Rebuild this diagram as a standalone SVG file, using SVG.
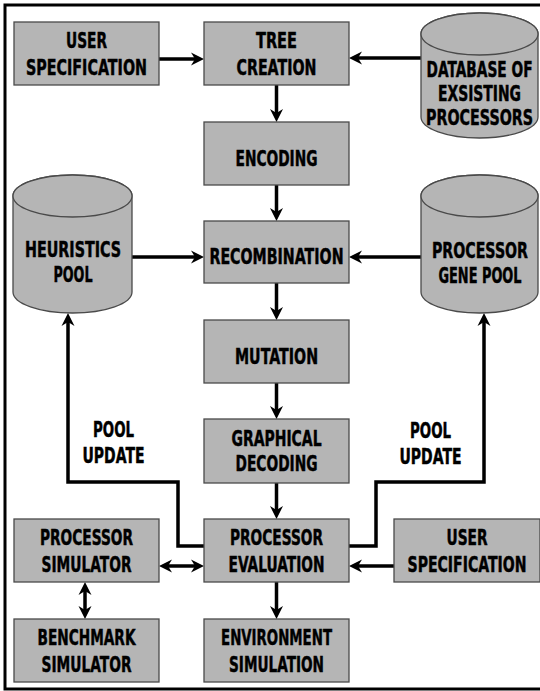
<svg xmlns="http://www.w3.org/2000/svg" width="540" height="691" viewBox="0 0 540 691">
<style>
.box{fill:#b5b5b5;stroke:#4a4a4a;stroke-width:1.3}
.cyl{fill:#b5b5b5;stroke:#4a4a4a;stroke-width:1.3}
.t{font-family:"Liberation Sans Narrow","Arial Narrow","DejaVu Sans","Liberation Sans",sans-serif;font-weight:bold;font-size:21px;fill:#000;stroke:#000;stroke-width:0.5;text-anchor:middle}
.c{fill:none;stroke:#000;stroke-width:3.5;stroke-linejoin:miter}
</style>
<defs>
<marker id="ah" markerUnits="userSpaceOnUse" markerWidth="14" markerHeight="14" viewBox="0 -7 14 14" refX="5" refY="0" orient="auto-start-reverse">
<path d="M0,-6.5 L13,0 L0,6.5 L4,0 Z" fill="#000"/>
</marker>
</defs>
<rect x="0" y="0" width="540" height="691" fill="#fff"/>
<rect x="5" y="5" width="545" height="684" fill="none" stroke="#000" stroke-width="3"/>

<g id="connectors">
<path class="c" d="M159,59 H196" marker-end="url(#ah)"/>
<path class="c" d="M421,58 H357" marker-end="url(#ah)"/>
<path class="c" d="M276.5,85 V114" marker-end="url(#ah)"/>
<path class="c" d="M276.5,185 V213" marker-end="url(#ah)"/>
<path class="c" d="M132,257 H196" marker-end="url(#ah)"/>
<path class="c" d="M421,257 H357" marker-end="url(#ah)"/>
<path class="c" d="M276.5,283 V312" marker-end="url(#ah)"/>
<path class="c" d="M276.5,383 V411" marker-end="url(#ah)"/>
<path class="c" d="M276.5,483 V511" marker-end="url(#ah)"/>
<path class="c" d="M276.5,582 V611" marker-end="url(#ah)"/>
<path class="c" d="M167,566 H196" marker-start="url(#ah)" marker-end="url(#ah)"/>
<path class="c" d="M394,566 H357" marker-end="url(#ah)"/>
<path class="c" d="M85,590 V611" marker-start="url(#ah)" marker-end="url(#ah)"/>
<path class="c" d="M204,546 H178 V482 H68 V321" marker-end="url(#ah)"/>
<path class="c" d="M349,546 H376 V482 H484 V321" marker-end="url(#ah)"/>
</g>

<g id="label_pool_update_left">
<text class="t" transform="translate(113.5 0) scale(.68 1)" x="0" y="437" textLength="60.3" lengthAdjust="spacingAndGlyphs">POOL</text>
<text class="t" transform="translate(113.5 0) scale(.68 1)" x="0" y="463" textLength="91.2" lengthAdjust="spacingAndGlyphs">UPDATE</text>
</g>
<g id="label_pool_update_right">
<text class="t" transform="translate(430.5 0) scale(.68 1)" x="0" y="438" textLength="60.3" lengthAdjust="spacingAndGlyphs">POOL</text>
<text class="t" transform="translate(430.5 0) scale(.68 1)" x="0" y="464" textLength="91.2" lengthAdjust="spacingAndGlyphs">UPDATE</text>
</g>

<g id="user_spec_top">
<rect class="box" x="14" y="22" width="145" height="63"/>
<text class="t" transform="translate(86.5 0) scale(.68 1)" x="0" y="48.5" textLength="60.3" lengthAdjust="spacingAndGlyphs">USER</text>
<text class="t" transform="translate(86.5 0) scale(.68 1)" x="0" y="75" textLength="177.9" lengthAdjust="spacingAndGlyphs">SPECIFICATION</text>
</g>
<g id="tree_creation">
<rect class="box" x="204" y="22" width="145" height="63"/>
<text class="t" transform="translate(276.5 0) scale(.68 1)" x="0" y="48.5" textLength="60.3" lengthAdjust="spacingAndGlyphs">TREE</text>
<text class="t" transform="translate(276.5 0) scale(.68 1)" x="0" y="75" textLength="117.6" lengthAdjust="spacingAndGlyphs">CREATION</text>
</g>
<g id="database">
<path class="cyl" d="M421,34 V117 A58.5,21 0 0 0 538,117 V34 A58.5,21 0 0 0 421,34 Z"/>
<ellipse class="cyl" cx="479.5" cy="34" rx="58.5" ry="21"/>
<text class="t" transform="translate(479.5 0) scale(.68 1)" x="0" y="77" textLength="155.9" lengthAdjust="spacingAndGlyphs">DATABASE OF</text>
<text class="t" transform="translate(479.5 0) scale(.68 1)" x="0" y="101.5" textLength="122.1" lengthAdjust="spacingAndGlyphs">EXSISTING</text>
<text class="t" transform="translate(479.5 0) scale(.68 1)" x="0" y="125" textLength="157.4" lengthAdjust="spacingAndGlyphs">PROCESSORS</text>
</g>
<g id="encoding">
<rect class="box" x="204" y="122" width="145" height="63"/>
<text class="t" transform="translate(276.5 0) scale(.68 1)" x="0" y="166" textLength="120.6" lengthAdjust="spacingAndGlyphs">ENCODING</text>
</g>
<g id="heuristics_pool">
<path class="cyl" d="M13,196 V292 A59.5,21 0 0 0 132,292 V196 A59.5,21 0 0 0 13,196 Z"/>
<ellipse class="cyl" cx="72.5" cy="196" rx="59.5" ry="21"/>
<text class="t" transform="translate(73 0) scale(.68 1)" x="0" y="257" textLength="141.2" lengthAdjust="spacingAndGlyphs">HEURISTICS</text>
<text class="t" transform="translate(73 0) scale(.68 1)" x="0" y="282" textLength="57.4" lengthAdjust="spacingAndGlyphs">POOL</text>
</g>
<g id="recombination">
<rect class="box" x="204" y="221" width="145" height="62"/>
<text class="t" transform="translate(276.5 0) scale(.68 1)" x="0" y="264.5" textLength="197.1" lengthAdjust="spacingAndGlyphs">RECOMBINATION</text>
</g>
<g id="processor_gene_pool">
<path class="cyl" d="M421,196 V292 A58.5,21 0 0 0 538,292 V196 A58.5,21 0 0 0 421,196 Z"/>
<ellipse class="cyl" cx="479.5" cy="196" rx="58.5" ry="21"/>
<text class="t" transform="translate(480 0) scale(.68 1)" x="0" y="258" textLength="141.2" lengthAdjust="spacingAndGlyphs">PROCESSOR</text>
<text class="t" transform="translate(480 0) scale(.68 1)" x="0" y="283" textLength="122.1" lengthAdjust="spacingAndGlyphs">GENE POOL</text>
</g>
<g id="mutation">
<rect class="box" x="204" y="320" width="145" height="63"/>
<text class="t" transform="translate(276.5 0) scale(.68 1)" x="0" y="364.5" textLength="122.1" lengthAdjust="spacingAndGlyphs">MUTATION</text>
</g>
<g id="graphical_decoding">
<rect class="box" x="204" y="419" width="145" height="64"/>
<text class="t" transform="translate(276.5 0) scale(.68 1)" x="0" y="446" textLength="132.4" lengthAdjust="spacingAndGlyphs">GRAPHICAL</text>
<text class="t" transform="translate(276.5 0) scale(.68 1)" x="0" y="471" textLength="120.6" lengthAdjust="spacingAndGlyphs">DECODING</text>
</g>
<g id="processor_simulator">
<rect class="box" x="14" y="519" width="145" height="63"/>
<text class="t" transform="translate(86.5 0) scale(.68 1)" x="0" y="545.5" textLength="136.8" lengthAdjust="spacingAndGlyphs">PROCESSOR</text>
<text class="t" transform="translate(86.5 0) scale(.68 1)" x="0" y="572" textLength="132.4" lengthAdjust="spacingAndGlyphs">SIMULATOR</text>
</g>
<g id="processor_evaluation">
<rect class="box" x="204" y="519" width="145" height="63"/>
<text class="t" transform="translate(276.5 0) scale(.68 1)" x="0" y="545.5" textLength="136.8" lengthAdjust="spacingAndGlyphs">PROCESSOR</text>
<text class="t" transform="translate(276.5 0) scale(.68 1)" x="0" y="572" textLength="141.2" lengthAdjust="spacingAndGlyphs">EVALUATION</text>
</g>
<g id="user_spec_bottom">
<rect class="box" x="394" y="519" width="146" height="63"/>
<text class="t" transform="translate(467 0) scale(.68 1)" x="0" y="545.5" textLength="60.3" lengthAdjust="spacingAndGlyphs">USER</text>
<text class="t" transform="translate(467 0) scale(.68 1)" x="0" y="572" textLength="175" lengthAdjust="spacingAndGlyphs">SPECIFICATION</text>
</g>
<g id="benchmark_simulator">
<rect class="box" x="14" y="619" width="145" height="63"/>
<text class="t" transform="translate(86.5 0) scale(.68 1)" x="0" y="645.5" textLength="144.1" lengthAdjust="spacingAndGlyphs">BENCHMARK</text>
<text class="t" transform="translate(86.5 0) scale(.68 1)" x="0" y="672" textLength="132.4" lengthAdjust="spacingAndGlyphs">SIMULATOR</text>
</g>
<g id="environment_simulation">
<rect class="box" x="204" y="619" width="145" height="63"/>
<text class="t" transform="translate(276.5 0) scale(.68 1)" x="0" y="645.5" textLength="163.2" lengthAdjust="spacingAndGlyphs">ENVIRONMENT</text>
<text class="t" transform="translate(276.5 0) scale(.68 1)" x="0" y="672" textLength="139.7" lengthAdjust="spacingAndGlyphs">SIMULATION</text>
</g>
</svg>
